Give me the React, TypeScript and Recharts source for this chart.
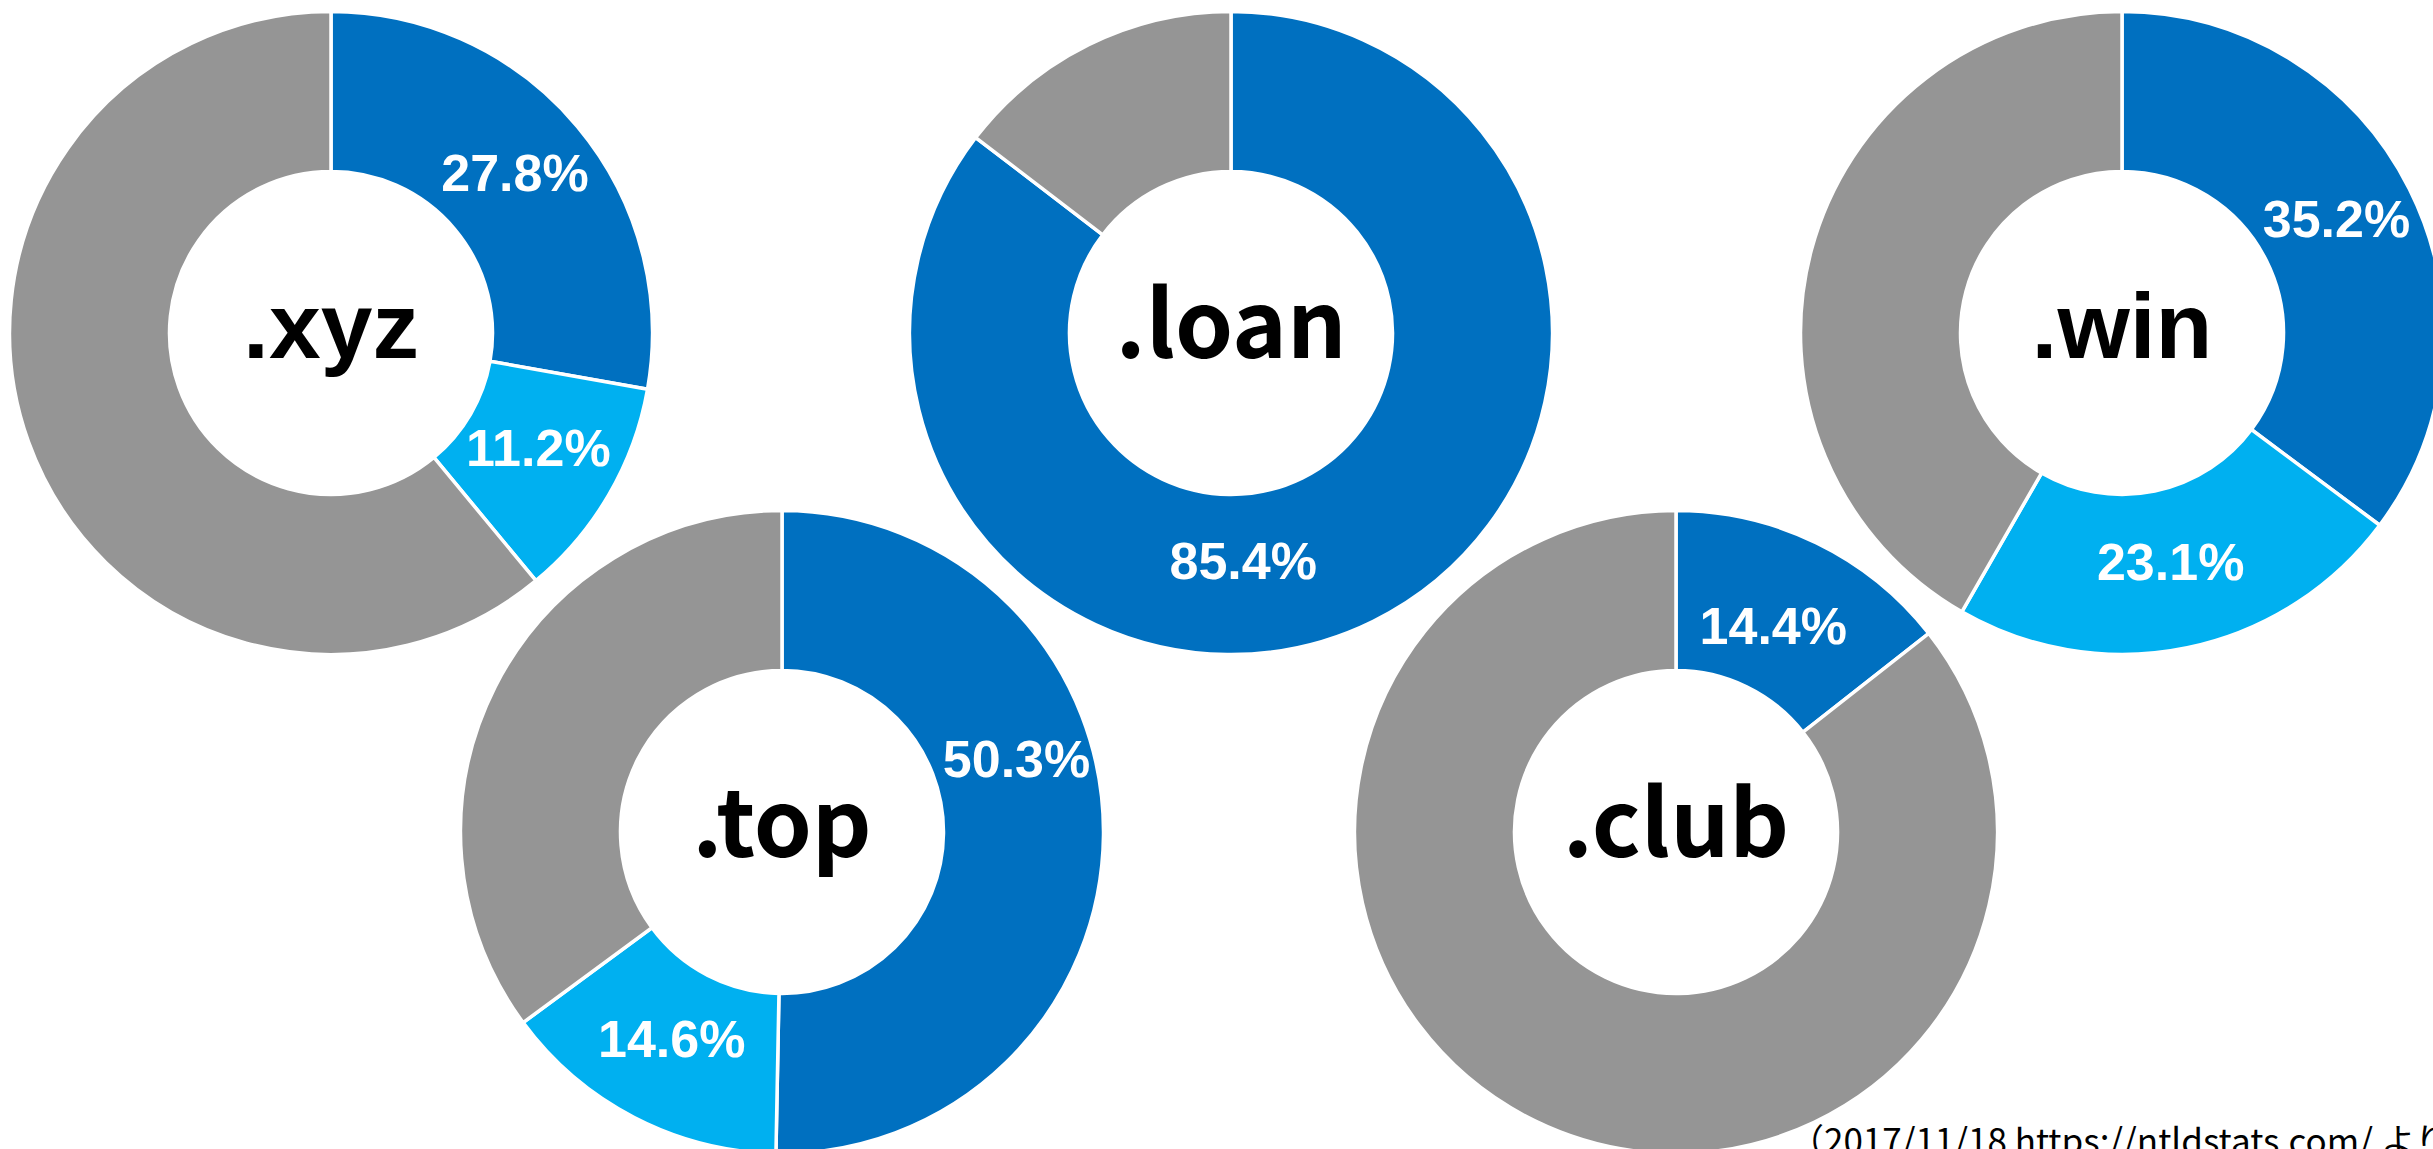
import { PieChart, Pie, Cell } from "recharts";

// share of new registrations by TLD (%)
const DOMAINS = [".xyz", ".loan", ".win", ".top", ".club"];
const SHARE_MAIN = [27.8, 85.4, 35.2, 50.3, 14.4];
const SHARE_SUB = [11.2, 0, 23.1, 14.6, 0];
const SHARE_OTHER = [61.0, 14.6, 41.7, 35.1, 85.6];

const COLORS = ["#0070c0", "#00b0f0", "#959595"];

// layout
const W = 2433;
const H = 1149;
const CX = [331, 1231, 2122, 782, 1676];
const CY = [333, 333, 333, 832, 832];
const ARIAL = "'Liberation Sans', Arial, sans-serif";
const MEIRYO = "'Noto Sans CJK JP', sans-serif";
const CENTER_FONT = [ARIAL, MEIRYO, ARIAL, MEIRYO, MEIRYO];
// a few labels sit away from the mid-angle in the original
const LABEL_OVERRIDE: Record<string, { angle: number; r: number }> = {
  ".loan-0": { angle: -87, r: 234 },
  ".top-0": { angle: 16, r: 244 },
  ".club-0": { angle: 64, r: 222 },
};

const RADIAN = Math.PI / 180;

function makeLabel(domain: string, font: string) {
  return (props: any) => {
    const { cx, cy, midAngle, index, value } = props;
    const ov = LABEL_OVERRIDE[`${domain}-${index}`];
    const ang = ov ? ov.angle : midAngle;
    const r = ov ? ov.r : 240;
    const x = cx + r * Math.cos(-ang * RADIAN);
    const y = cy + r * Math.sin(-ang * RADIAN) - 6;
    return (
      <g>
        {index === 0 && (
          <text x={cx} y={cy + 25} textAnchor="middle" fontFamily={font} fontWeight={700} fontSize={93} fill="#000">
            {domain}
          </text>
        )}
        {index < 2 && value > 0 && (
          <text x={x} y={y} textAnchor="middle" dominantBaseline="central" fontFamily={ARIAL} fontWeight={700} fontSize={52} fill="#fff">
            {`${value.toFixed(1)}%`}
          </text>
        )}
      </g>
    );
  };
}

export default function App() {
  return (
    <div style={{ position: "absolute", left: 0, top: 0, width: W, height: H, overflow: "hidden", background: "#fff" }}>
      <PieChart width={W} height={H} margin={{ top: 0, right: 0, bottom: 0, left: 0 }}>
        {DOMAINS.map((d, i) => {
          const data = [
            { name: "main", value: SHARE_MAIN[i] },
            { name: "sub", value: SHARE_SUB[i] },
            { name: "other", value: SHARE_OTHER[i] },
          ];
          return (
            <Pie
              key={d}
              data={data}
              dataKey="value"
              cx={CX[i]}
              cy={CY[i]}
              innerRadius={161.5}
              outerRadius={321.5}
              startAngle={90}
              endAngle={-270}
              stroke="#fff"
              strokeWidth={3.5}
              labelLine={false}
              label={makeLabel(d, CENTER_FONT[i])}
              isAnimationActive={false}
            >
              {data.map((_, j) => (
                <Cell key={j} fill={COLORS[j]} />
              ))}
            </Pie>
          );
        })}
      </PieChart>
      <div
        style={{
          position: "absolute",
          left: 1789,
          top: 1119,
          fontFamily: MEIRYO,
          fontSize: 35,
          lineHeight: "40px",
          whiteSpace: "nowrap",
          color: "#000",
        }}
      >
        （2017/11/18 https://ntldstats.com/ より）
      </div>
    </div>
  );
}
